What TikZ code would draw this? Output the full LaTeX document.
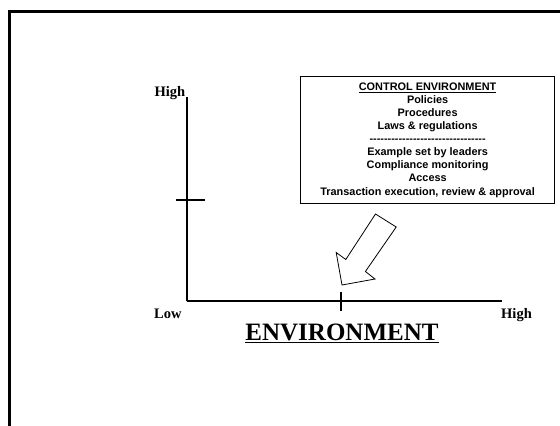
\documentclass[tikz,border=0pt]{standalone}
\usepackage{fontspec}
\setmainfont{Liberation Serif}
\newfontfamily\boxfont{Liberation Sans}
\begin{document}
\begin{tikzpicture}[x=1pt,y=-1pt,
  axis/.style={line width=2.4pt},
  tick/.style={line width=2.2pt},
  axlabel/.style={font=\fontsize{14.5}{16}\selectfont\bfseries, inner sep=0pt},
  ctrlbox/.style={draw, line width=0.9pt, align=center, inner sep=0pt,
    minimum width=254pt, minimum height=126.6pt,
    font=\boxfont\fontsize{10.9}{13.1}\selectfont\bfseries},
  bigarrow/.style={draw, line width=0.8pt, fill=white, line join=miter}]
  \useasboundingbox (0,0) rectangle (560,426);
  % page frame (only top and left edges fall inside the picture)
  \draw[line width=2.8pt] (9.5,430) -- (9.5,11.5) -- (565,11.5);

  % axes
  \coordinate (origin) at (186.8,301);
  \coordinate (ytop) at (186.8,96.5);
  \coordinate (xend) at (501.8,301);
  \draw[line width=1.9pt] (origin) -- (ytop);
  \draw[axis] (origin) -- (xend);
  % midpoint ticks
  \coordinate (ytl) at (176,200);
  \coordinate (ytr) at (204.5,200);
  \coordinate (xtt) at (341,291.5);
  \coordinate (xtb) at (341,311);
  \draw[tick] (ytl) -- (ytr);
  \draw[tick] (xtt) -- (xtb);

  % axis labels
  \node[axlabel, anchor=base east] (yhigh) at (185.5,96.8) {High};
  \node[axlabel, anchor=base west] (xlow) at (154,318) {Low};
  \node[axlabel, anchor=base west] (xhigh) at (501,318) {High};
  \node[font=\fontsize{25}{28}\selectfont\bfseries, inner sep=0pt, anchor=base]
    (envtitle) at (342,340.7) {\underline{ENVIRONMENT}};

  % control environment box
  \node[ctrlbox] (ctrl) at (427.6,140) {%
    \underline{CONTROL ENVIRONMENT}\\
    Policies\\
    Procedures\\
    Laws \& regulations\\
    --------------------------------\\
    Example set by leaders\\
    Compliance monitoring\\
    Access\\
    Transaction execution, review \& approval};

  % block arrow pointing at the mid tick of the horizontal axis
  \draw[bigarrow] (342,285) -- (336.2,252.5) -- (345.8,259.5) -- (375.5,214)
    -- (396.2,227) -- (365.4,271.5) -- (375,279) -- cycle;
\end{tikzpicture}
\end{document}
